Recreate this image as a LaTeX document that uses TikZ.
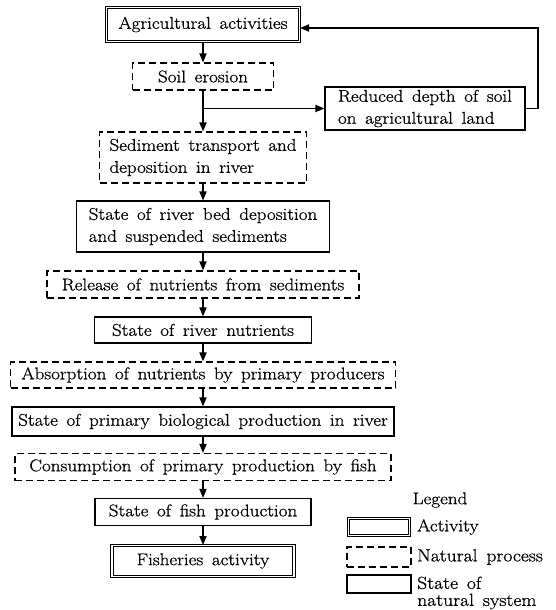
\documentclass[tikz,border=0pt]{standalone}
\usepackage{fontspec}
\setmainfont{Latin Modern Roman}[FakeStretch=1.12, FakeBold=0.8, WordSpace=1.5]
\usetikzlibrary{arrows.meta}
\begin{document}
\begin{tikzpicture}[x=1pt,y=-1pt,
  every node/.style={font=\fontsize{17}{22}\selectfont, inner sep=0pt},
  activity/.style={draw, double, double distance=1.8pt, line width=1pt},
  process/.style={draw, line width=1.1pt, dash pattern=on 7pt off 4pt},
  sysstate/.style={draw, line width=1.1pt},
  flow/.style={line width=1.7pt, -{Triangle[length=9pt,width=7pt]}},
  plain/.style={line width=1.7pt}]
\useasboundingbox (0,0) rectangle (555,610);

% main chain
\node[activity, minimum width=193pt, minimum height=34pt] (agri) at (203,24.5) {Agricultural activities};
\node[process, minimum width=141pt, minimum height=27pt] (soil) at (203,76.5) {Soil erosion};
\node[sysstate, minimum width=200pt, minimum height=43pt, align=left] (reduced) at (425,108.5) {Reduced depth of soil\\on agricultural land};
\node[process, minimum width=207pt, minimum height=51pt, align=left] (sed) at (203,157.5) {Sediment transport and\\deposition in river};
\node[sysstate, minimum width=253pt, minimum height=51pt, align=left] (bed) at (203,226.5) {State of river bed deposition\\and suspended sediments};
\node[process, minimum width=312pt, minimum height=27pt] (release) at (203,284.5) {Release of nutrients from sediments};
\node[sysstate, minimum width=217pt, minimum height=26pt] (nutr) at (203,330) {State of river nutrients};
\node[process, minimum width=385pt, minimum height=26pt] (absorb) at (203,375) {Absorption of nutrients by primary producers};
\node[sysstate, minimum width=382pt, minimum height=29pt] (prim) at (203,421.5) {State of primary biological production in river};
\node[process, minimum width=376pt, minimum height=27pt] (consume) at (203,467) {Consumption of primary production by fish};
\node[sysstate, minimum width=216pt, minimum height=27pt] (fish) at (203,512) {State of fish production};
\node[activity, minimum width=182pt, minimum height=31pt] (fisheries) at (203,561) {Fisheries activity};

% branch point below soil erosion, and the return path
\coordinate (br) at (203,108.5);
\coordinate (fb) at (538,28);

\draw[flow] (agri) -- (soil);
\draw[plain] (soil) -- (br);
\draw[flow] (br) -- (sed);
\draw[flow] (br) -- (reduced);
\draw[flow] (reduced.east) -| (fb) -- (agri.east |- fb);
\draw[flow] (sed) -- (bed);
\draw[flow] (bed) -- (release);
\draw[flow] (release) -- (nutr);
\draw[flow] (nutr) -- (absorb);
\draw[flow] (absorb) -- (prim);
\draw[flow] (prim) -- (consume);
\draw[flow] (consume) -- (fish);
\draw[flow] (fish) -- (fisheries);

% legend
\node (legend) at (440,500) {Legend};
\node[activity, minimum width=61pt, minimum height=17pt] (lact) at (379,527) {};
\node[anchor=west] (tact) at (417,527) {Activity};
\node[process, minimum width=64pt, minimum height=20pt] (lproc) at (379,557) {};
\node[anchor=west, font=\fontsize{17.5}{22}\selectfont] (tproc) at (417,557) {Natural process};
\node[sysstate, minimum width=64pt, minimum height=18pt] (lstate) at (379,584) {};
\node[anchor=west, align=left, font=\fontsize{17.5}{17}\selectfont] (tstate) at (417,593) {State of\\natural system};
\end{tikzpicture}
\end{document}
